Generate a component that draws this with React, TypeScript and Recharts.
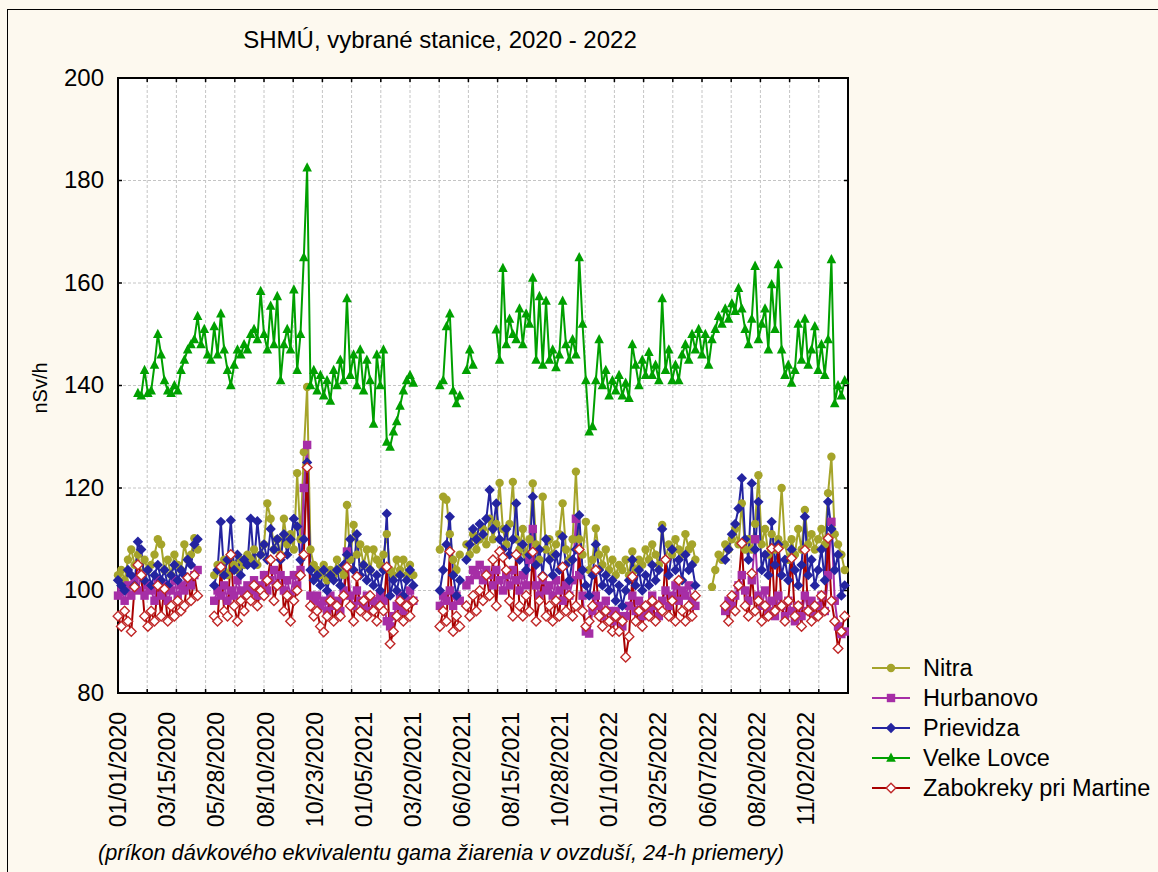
import React from 'react';
import { LineChart, Line, XAxis, YAxis, CartesianGrid, ReferenceLine, ReferenceArea } from 'recharts';

// daily means sampled every STEP days, first sample = 01/01/2020
const STEP = 5;
const N = null;

const nitra = [
  103, 104, 102, 106, 108, 105, 107, 103, 106, 104,
  105, 107, 110, 109, 104, 106, 103, 107, 105, 104,
  109, 106, 107, 110.2, 108, N, N, N, N, 103,
  105, 104, 106, 103, 107, 105, 104, 106, 105, 107,
  106, 108, 105, 107, 109, 117, 114, 108, 110, 107,
  114, 109, 111, 108, 122.9, 110, 127, 139.7, 108, 105,
  104, 103, 105, 102, 104, 103, 106, 104, 103, 116.7,
  106, 112.8, 107, 109, 105, 108, 104, 108, 106, 105,
  107, 111, 104, 103, 106, 104, 106, 103, 105, 103,
  N, N, N, N, N, N, N, 108, 118.3, 117.7,
  111, 106, 104, 107, N, 109, 107, 111, 108, 110,
  112, 109, 114, 110, 113, 121, 112, 109, 113, 121.2,
  110, 108, 112, 107, 110, 120.9, 109, 106, 118.3, 108,
  110, 107, 109, 111, 117, 108, 106, 110, 123.2, 110,
  107, 113.4, 104, 106, 112.1, 107, 105, 108, 104, 106,
  103, 105, 104, 106, 103, 107.6, 104, 106, 105, 108,
  106, 109, 107, 105, 112.8, 106, 109, 107, 110, 108,
  107, 111, 108, 109, 106, N, N, N, N, 100.7,
  104, 107, 106, 109, 108, 110, 112, 109, 117, 108,
  110, 108, 113, 122.5, 109, 112, 107, 111, 108, 110,
  120, 109, 106, 110, 107, 112, 108, 115.7, 109, 111,
  108, 110, 112, 109, 119, 126.1, 111, 109, 107, 104,
];

const hurbanovo = [
  99, 100, 98, 101, 99, 102, 100, 103, 99, 101,
  100, 98, 102, 99, 101, 98, 100, 102, 99, 101,
  100, 102, 101, 103, 104, N, N, N, N, 98,
  100, 99, 101, 98, 100, 99, 102, 100, 99, 101,
  100, 102, 99, 101, 103, 100, 102, 104, 101, 103,
  100, 102, 99, 103, 101, 104, 120, 128.4, 99, 98,
  99, 97, 98, 96, 99, 97, 98, 96, 100, 107.6,
  99, 97, 100, 98, 97, 99, 96, 98, 97, 99,
  98, 94, 93, 95, 97, 99, 96, 98, 100, 98,
  N, N, N, N, N, N, N, 97, 99, 98,
  100, 97, 99, 98, N, 101, 102, 104, 103, 105,
  102, 104, 103, 101, 104, 102, 100, 103, 101, 104,
  102, 100, 103, 101, 106, 112, 101, 99, 102, 100,
  101, 99, 102, 100, 98, 101, 99, 102, 114, 103,
  99, 92, 91.6, 96, 99, 97, 95, 98, 96, 94,
  96, 95, 93, 95, 97, 99, 96, 98, 95, 97,
  96, 99, 97, 95, 98, 100, 97, 99, 101, 98,
  100, 99, 101, 98, 97, N, N, N, N, N,
  N, N, N, 96, 98, 97, 99, 101, 103, 100,
  98, 102, 110, 99, 97, 100, 96, 98, 95, 99,
  97, 95, 98, 96, 94, 97, 95, 99, 96, 98,
  95, 97, 99, 96, 103, 113.4, 98, 93, 91.5, 92,
];

const prievidza = [
  102, 101, 100, 104, 103, 101, 109.5, 108, 102, 104,
  101, 103, 105, 102, 104, 101, 103, 105, 102, 104,
  103, 106, 105, 109, 110, N, N, N, N, 101,
  104, 113.4, 103, 106, 113.7, 104, 107, 103, 106, 105,
  114, 105, 113.5, 107, 109, 106, 112, 108, 110, 106,
  111, 107, 110, 114, 112.5, 106, 110, 125, 104, 102,
  103, 101, 104, 100, 103, 102, 104, 101, 105, 107,
  110, 104, 111, 103, 105, 102, 104, 101, 103, 100,
  104, 115, 99, 102, 100, 103, 99, 102, 104, 101,
  N, N, N, N, N, N, N, 100, 104, 109,
  114.4, 103, 99, 102, N, 106, 109, 112, 110, 113,
  111, 114, 119.6, 112, 117, 110, 108, 112, 107, 110,
  117, 106, 109, 104, 107, 118.3, 105, 108, 103, 110,
  106, 103, 107, 104, 110.5, 105, 102, 106, 108, 114.7,
  104, 101, 99, 103, 109, 104, 101, 103, 100, 102,
  98, 101, 97, 100, 102, 106, 101, 104, 100, 103,
  101, 105, 102, 104, 112, 106, 103, 108, 104, 106,
  102, 107, 104, 105, 101, N, N, N, N, N,
  N, N, N, 106, 108, 111, 113, 116, 121.9, 110,
  106, 120.9, 108, 117.3, 104, 107, 103, 113.4, 105, 109,
  103, 106, 102, 108, 104, 101, 105, 114.4, 103, 106,
  101, 104, 108, 102, 117.3, 112, 104, 107, 99, 101,
];

const velkeLovce = [
  N, N, N, N, N, N, 138.5, 138, 143, 138.5,
  139, 144, 150, 146, 141, 139, 138.5, 140, 139, 143,
  145, 147, 148, 149, 153.5, 148, 151, 146, 145, 151.5,
  146, 154, 147, 143, 140, 144, 147, 146, 148, 147,
  150, 151, 149, 158.4, 150, 147, 155.5, 148, 157.4, 141,
  148, 151, 147, 158.7, 143, 150, 165, 182.5, 140, 143,
  139, 142, 138, 141, 137, 143, 140, 145, 141, 157,
  142, 146, 140, 147, 139, 145, 141, 132.5, 146, 140,
  147, 129, 128, 131, 133, 136, 139, 141, 142, 140.5,
  N, N, N, N, N, N, N, 140, 141, 151.5,
  154, 139, 136.5, 138, N, 143, 147, 144, N, N,
  N, N, N, N, 150.9, 145, 162.9, 148, 153, 150,
  149, 155, 148, 154, 152, 161, 145, 157.4, 144, 156.5,
  145, 147, 143.5, 146, 156.5, 148, 145, 149, 146, 165,
  152, 141, 131, 132, 141, 149, 140, 143, 138, 141,
  139, 142, 138, 140.5, 137.5, 148, 144, 140, 145, 142,
  146.5, 142, 144, 141, 157, 143, 147, 141, 144, 141,
  146, 148, 145, 150, 147, 151, 146, 150, 144, 149,
  151, 153.5, 152, 155, 153, 156, 154.5, 159, 155, 151,
  148, 153, 163.3, 149, 152, 155, 147, 159.7, 151, 163.6,
  147, 142, 144, 140.5, 143, 152, 145, 153, 144, 147,
  151.5, 143, 148, 142, 149, 164.6, 136.5, 140, 138, 141,
];

const zabokreky = [
  95, 93, 96, 94, 92, 100.7, 105, 103, 95, 93,
  96, 94, 101, 95, 100.3, 94, 97, 95, 98, 96,
  97, 102.5, 98, 103, 99, N, N, N, N, 95,
  94, 104.6, 96, 95, 107, 97, 94, 98, 96, 99,
  98, 101, 97, 100, 99, 102, 106, 98, 101, 106.7,
  96, 99, 94, 98, 100, 103, 107, 124, 97, 95,
  96, 93, 91.9, 95, 98, 94, 97, 95, 99, 104.6,
  97, 94, 102.7, 96, 98, 95, 99, 96, 94, 97,
  96, 104.6, 89.6, 92, 95, 98, 94, 97, 95, 98,
  N, N, N, N, N, N, N, 93, 96, 94,
  107.6, 92, 95, 93, N, 97, 95, 99, 96, 100,
  98, 103, 99, 106, 97, 107.6, 106.5, 104, 98, 95,
  107, 97, 95, 99, 96, 107.5, 94, 98, 102.7, 95,
  97, 94, 98, 95, 104.6, 96, 99, 95, 97, 108,
  96, 93, 94, 97, 104, 95, 93, 96, 94, 92,
  95, 92, 94, 87, 91, 102.7, 94, 96, 93, 97,
  95, 98, 94, 97, 96, 106, 95, 98, 94, 102,
  96, 94, 97, 95, 99, N, N, N, N, N,
  N, N, N, 97, 94, 99, 96, 101, 109.2, 97,
  95, 103.3, 96, 98, 94, 97, 95, 108.2, 96, 108.2,
  97, 94, 98, 106.3, 95, 97, 93, 107.9, 96, 94,
  97, 95, 99, 96, 110.2, 98, 94, 88.7, 92, 95,
];

const xLabels = [
  '01/01/2020', '03/15/2020', '05/28/2020', '08/10/2020', '10/23/2020',
  '01/05/2021', '03/20/2021', '06/02/2021', '08/15/2021', '10/28/2021',
  '01/10/2022', '03/25/2022', '06/07/2022', '08/20/2022', '11/02/2022',
];
const yTicks = [80, 100, 120, 140, 160, 180, 200];
const X_MAX = 1100;
const MINOR_STEP = 44;

const dayOf = (s: string) => {
  const [m, d, y] = s.split('/').map(Number);
  return Math.round((Date.UTC(y, m - 1, d) - Date.UTC(2020, 0, 1)) / 86400000);
};
const labelDays = xLabels.map(dayOf);
const minorDays = Array.from({ length: X_MAX / MINOR_STEP + 1 }, (_, i) => i * MINOR_STEP);

const data = nitra.map((_, i) => ({
  day: i * STEP,
  nitra: nitra[i],
  hurbanovo: hurbanovo[i],
  prievidza: prievidza[i],
  velke: velkeLovce[i],
  zabokreky: zabokreky[i],
}));

const FONT = '"Liberation Sans", Arial, sans-serif';

const series = [
  { key: 'nitra', name: 'Nitra', color: '#a5a42a', shape: 'circle' },
  { key: 'hurbanovo', name: 'Hurbanovo', color: '#a62ea6', shape: 'square' },
  { key: 'prievidza', name: 'Prievidza', color: '#2424a0', shape: 'diamond' },
  { key: 'velke', name: 'Velke Lovce', color: '#00a000', shape: 'triangle' },
  { key: 'zabokreky', name: 'Zabokreky pri Martine', color: '#a80000', shape: 'open' },
];

function marker(shape: string, color: string, cx: number, cy: number, key?: string) {
  switch (shape) {
    case 'circle':
      return <circle key={key} cx={cx} cy={cy} r={4.2} fill={color} />;
    case 'square':
      return <rect key={key} x={cx - 4.2} y={cy - 4.2} width={8.4} height={8.4} fill={color} />;
    case 'diamond':
      return (
        <polygon key={key} points={`${cx},${cy - 5.2} ${cx + 5.2},${cy} ${cx},${cy + 5.2} ${cx - 5.2},${cy}`} fill={color} />
      );
    case 'triangle':
      return (
        <polygon key={key} points={`${cx},${cy - 5.5} ${cx + 4.8},${cy + 3.8} ${cx - 4.8},${cy + 3.8}`} fill={color} />
      );
    default:
      return (
        <polygon
          key={key}
          points={`${cx},${cy - 4.8} ${cx + 4.8},${cy} ${cx},${cy + 4.8} ${cx - 4.8},${cy}`}
          fill="#fff"
          stroke="#c02828"
          strokeWidth={1.4}
        />
      );
  }
}

const makeDot = (shape: string, color: string) => (p: any) => {
  const k = `${shape}-${p.index}`;
  if (p.cx == null || p.cy == null || Number.isNaN(p.cy) || p.value == null) return <g key={k} />;
  return marker(shape, color, p.cx, p.cy, k);
};

const XTick = (p: any) => {
  const { x, y, payload } = p;
  const i = labelDays.indexOf(payload.value);
  const ty = y + 11;
  return (
    <text
      x={x}
      y={ty}
      transform={`rotate(-90 ${x} ${ty})`}
      textAnchor="end"
      dy="0.36em"
      fontSize={23}
      fontFamily={FONT}
      fill="#000"
    >
      {i >= 0 ? xLabels[i] : ''}
    </text>
  );
};

const YTick = (p: any) => (
  <text x={p.x} y={p.y} dy="0.32em" textAnchor="end" fontSize={24} fontFamily={FONT} fill="#000">
    {p.payload.value}
  </text>
);

function LegendBox() {
  return (
    <svg width={298} height={160} style={{ position: 'absolute', left: 860, top: 650 }}>
      {series.map((s, i) => {
        const cy = 18 + i * 30;
        return (
          <g key={s.key}>
            <line x1={12} x2={50} y1={cy} y2={cy} stroke={s.color} strokeWidth={2} />
            {marker(s.shape, s.color, 31, cy)}
            <text x={63} y={cy} dy="0.36em" fontSize={23.5} fontFamily={FONT} fill="#000">
              {s.name}
            </text>
          </g>
        );
      })}
    </svg>
  );
}

export default function App() {
  return (
    <div
      style={{
        position: 'absolute',
        left: 0,
        top: 0,
        width: 1158,
        height: 872,
        background: '#fdf9ef',
        overflow: 'hidden',
        fontFamily: FONT,
      }}
    >
      <div
        style={{
          position: 'absolute',
          left: 7,
          top: 9,
          width: 1160,
          height: 880,
          border: '1px solid #000',
        }}
      />
      <div
        style={{
          position: 'absolute',
          left: 0,
          width: 880,
          top: 26,
          textAlign: 'center',
          fontSize: 24,
          color: '#000',
        }}
      >
        SHMÚ, vybrané stanice, 2020 - 2022
      </div>
      <div
        style={{
          position: 'absolute',
          left: 40,
          top: 388,
          fontSize: 20,
          transform: 'translate(-50%, -50%) rotate(-90deg)',
          whiteSpace: 'nowrap',
        }}
      >
        nSv/h
      </div>
      <div style={{ position: 'absolute', left: 0, top: 0 }}>
        <LineChart width={1158} height={872} data={data} margin={{ top: 78, right: 310, bottom: 39, left: 58 }}>
          <CartesianGrid vertical={false} stroke="#c4c4c4" strokeDasharray="3 2" fill="#ffffff" />
          <XAxis
            dataKey="day"
            type="number"
            domain={[0, X_MAX]}
            ticks={labelDays}
            interval={0}
            tick={<XTick />}
            tickLine={false}
            axisLine={false}
            height={140}
          />
          <YAxis
            type="number"
            domain={[80, 200]}
            ticks={yTicks}
            interval={0}
            tick={<YTick />}
            tickLine={false}
            axisLine={false}
            tickMargin={8}
            width={60}
          />
          {minorDays.slice(1, -1).map((d) => (
            <ReferenceLine key={`g${d}`} x={d} stroke="#c4c4c4" strokeDasharray="3 2" />
          ))}
          {series.map((s) => (
            <Line
              key={s.key}
              type="linear"
              dataKey={s.key}
              stroke={s.color}
              strokeWidth={2}
              dot={makeDot(s.shape, s.color)}
              activeDot={false}
              isAnimationActive={false}
            />
          ))}
          {minorDays.map((d) => (
            <ReferenceLine key={`b${d}`} segment={[{ x: d, y: 80 }, { x: d, y: 80.8 }]} stroke="#000" strokeWidth={1.5} />
          ))}
          {minorDays.map((d) => (
            <ReferenceLine key={`t${d}`} segment={[{ x: d, y: 199.2 }, { x: d, y: 200 }]} stroke="#000" strokeWidth={1.5} />
          ))}
          {yTicks.map((v) => (
            <ReferenceLine key={`l${v}`} segment={[{ x: 0, y: v }, { x: 6, y: v }]} stroke="#000" strokeWidth={1.5} />
          ))}
          {yTicks.map((v) => (
            <ReferenceLine key={`r${v}`} segment={[{ x: X_MAX - 6, y: v }, { x: X_MAX, y: v }]} stroke="#000" strokeWidth={1.5} />
          ))}
          <ReferenceArea x1={0} x2={X_MAX} y1={80} y2={200} fill="none" fillOpacity={0} stroke="#000" strokeWidth={2} />
        </LineChart>
      </div>
      <LegendBox />
      <div
        style={{
          position: 'absolute',
          left: 0,
          width: 882,
          top: 840,
          textAlign: 'center',
          fontSize: 21.7,
          fontStyle: 'italic',
          color: '#000',
        }}
      >
        (príkon dávkového ekvivalentu gama žiarenia v ovzduší, 24-h priemery)
      </div>
    </div>
  );
}
